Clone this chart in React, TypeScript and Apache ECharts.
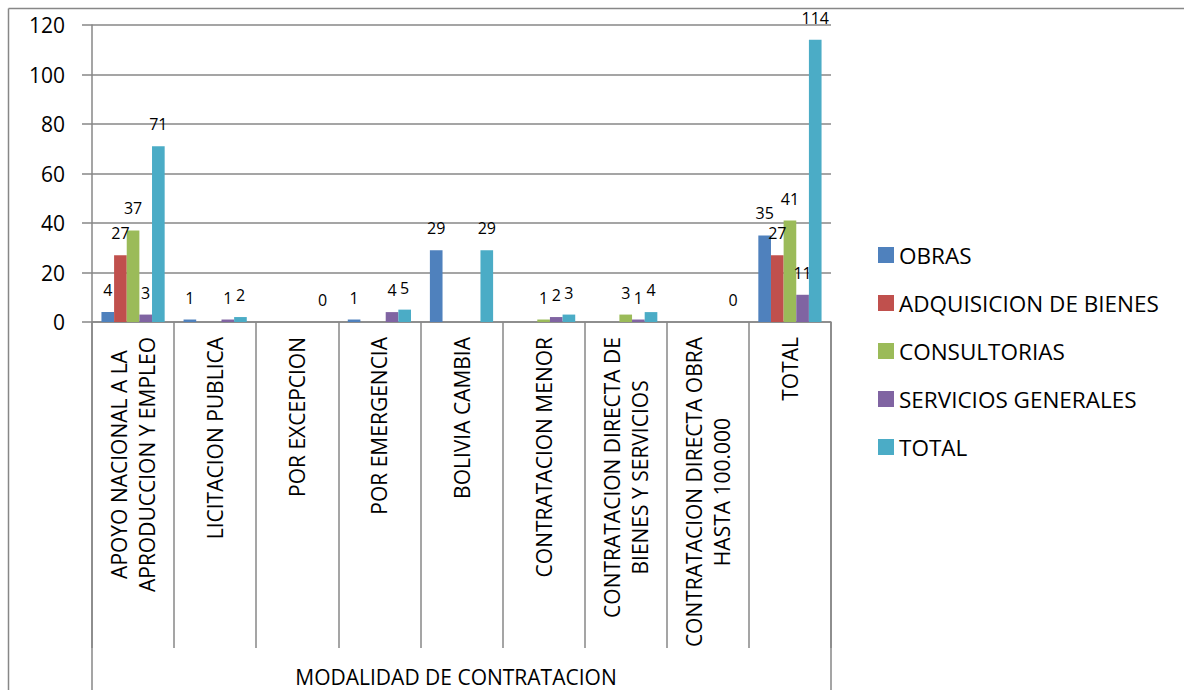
import React, { useEffect, useRef } from "react";
import * as echarts from "echarts";

const categories = [
  "APOYO NACIONAL A LA\nAPRODUCCION Y EMPLEO",
  "LICITACION PUBLICA",
  "POR EXCEPCION",
  "POR EMERGENCIA",
  "BOLIVIA CAMBIA",
  "CONTRATACION MENOR",
  "CONTRATACION DIRECTA DE\nBIENES Y SERVICIOS",
  "CONTRATACION DIRECTA OBRA\nHASTA 100.000",
  "TOTAL",
];

const seriesNames = ["OBRAS", "ADQUISICION DE BIENES", "CONSULTORIAS", "SERVICIOS GENERALES", "TOTAL"];
const seriesColors = ["#4F81BD", "#C0504D", "#9BBB59", "#8064A2", "#4BACC6"];

const obras = [4, 1, null, 1, 29, null, null, null, 35];
const adquisicion = [27, null, null, null, null, null, null, null, 27];
const consultorias = [37, null, null, null, null, 1, 3, null, 41];
const servicios = [3, 1, null, 4, null, 2, 1, null, 11];
const total = [71, 2, 0, 5, 29, 3, 4, 0, 114];

const yTicks = { min: 0, max: 120, interval: 20 };
const axisTitle = "MODALIDAD DE CONTRATACION";

const FONT = "'Open Sans', sans-serif";
const GRAY = "#878787";

export default function App() {
  const ref = useRef<HTMLDivElement>(null);
  useEffect(() => {
    if (!ref.current) return;
    const chart = echarts.init(ref.current, null, { renderer: "svg" });
    const values = [obras, adquisicion, consultorias, servicios, total];
    const option = {
      animation: false,
      backgroundColor: "#ffffff",
      textStyle: { fontFamily: FONT },
      grid: { left: 92, right: 353, top: 25, bottom: 368, containLabel: false },
      legend: {
        orient: "vertical",
        left: 873,
        top: 238,
        icon: "rect",
        itemWidth: 16,
        itemHeight: 16,
        itemGap: 24,
        itemStyle: { borderWidth: 0 },
        textStyle: { fontFamily: FONT, fontSize: 22.5, color: "#000", lineHeight: 24 },
        data: seriesNames,
      },
      xAxis: {
        type: "category",
        data: categories,
        boundaryGap: true,
        axisLine: { show: true, lineStyle: { color: GRAY, width: 1.5 } },
        axisTick: { show: true, interval: 0, length: 326, lineStyle: { color: GRAY, width: 1.5 } },
        axisLabel: {
          interval: 0,
          rotate: 90,
          margin: 15,
          fontFamily: FONT,
          fontSize: 21,
          color: "#000",
          lineHeight: 28,
          formatter: (v: string) => v.split("\n").map((l) => `{a|${l}}`).join("\n"),
          rich: { a: { align: "center", fontFamily: FONT, fontSize: 21, color: "#000", lineHeight: 28 } },
        },
        splitLine: { show: false },
      },
      yAxis: {
        type: "value",
        min: yTicks.min,
        max: yTicks.max,
        interval: yTicks.interval,
        axisLine: { show: true, lineStyle: { color: GRAY, width: 1.5 } },
        axisTick: { show: true, length: 10, lineStyle: { color: GRAY, width: 1.5 } },
        axisLabel: { margin: 27, fontFamily: FONT, fontSize: 21, color: "#000" },
        splitLine: { show: true, lineStyle: { color: GRAY, width: 1.5 } },
      },
      series: seriesNames.map((name, i) => ({
        name,
        type: "bar",
        data: values[i],
        barGap: "0%",
        barCategoryGap: "23%",
        itemStyle: { color: seriesColors[i] },
        label: {
          show: true,
          position: "top",
          distance: 14,
          fontFamily: FONT,
          fontSize: 16,
          color: "#000",
        },
      })),
      graphic: [
        { type: "line", shape: { x1: 8.5, y1: 8.5, x2: 1184, y2: 8.5 }, style: { stroke: GRAY, lineWidth: 1.5 } },
        { type: "line", shape: { x1: 8.5, y1: 8.5, x2: 8.5, y2: 690 }, style: { stroke: GRAY, lineWidth: 1.5 } },
        { type: "line", shape: { x1: 92, y1: 322, x2: 92, y2: 690 }, style: { stroke: GRAY, lineWidth: 1.5 } },
        { type: "line", shape: { x1: 831, y1: 322, x2: 831, y2: 690 }, style: { stroke: GRAY, lineWidth: 1.5 } },
        {
          type: "text",
          x: 456,
          y: 677,
          style: {
            text: axisTitle,
            fontFamily: FONT,
            fontSize: 21,
            lineHeight: 22,
            fill: "#000",
            textAlign: "center",
            textVerticalAlign: "middle",
          },
        },
      ],
    };
    chart.setOption(option as any);
    return () => chart.dispose();
  }, []);
  return (
    <div
      ref={ref}
      style={{ position: "fixed", left: 0, top: 0, width: 1184, height: 690, background: "#fff" }}
    />
  );
}
